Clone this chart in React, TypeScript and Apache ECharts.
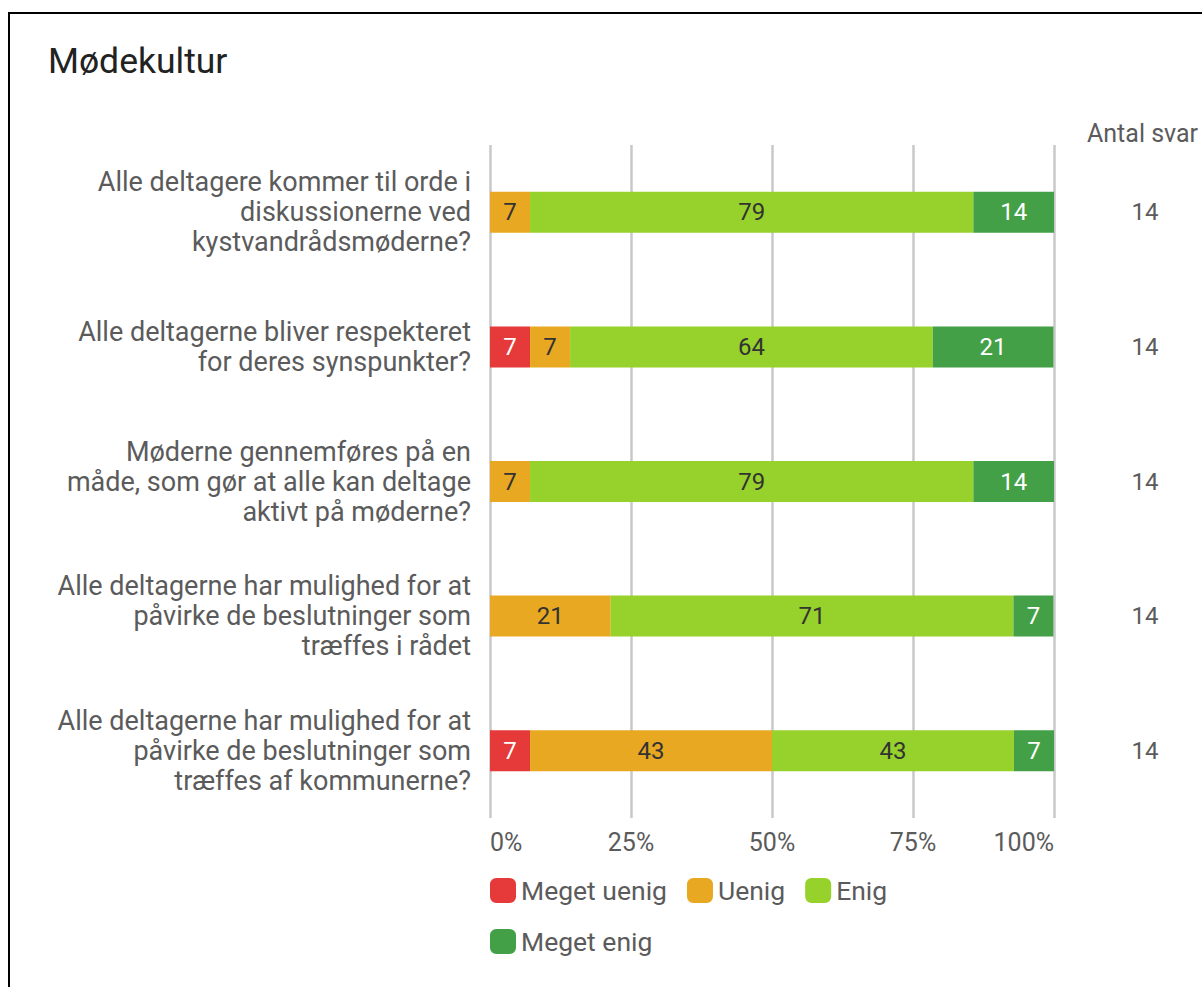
import React, { useEffect, useRef } from "react";
import * as echarts from "echarts";

const categories = [
  "Alle deltagere kommer til orde i\ndiskussionerne ved\nkystvandrådsmøderne?",
  "Alle deltagerne bliver respekteret\nfor deres synspunkter?",
  "Møderne gennemføres på en\nmåde, som gør at alle kan deltage\naktivt på møderne?",
  "Alle deltagerne har mulighed for at\npåvirke de beslutninger som\ntræffes i rådet",
  "Alle deltagerne har mulighed for at\npåvirke de beslutninger som\ntræffes af kommunerne?",
];
const antalSvar = ["14", "14", "14", "14", "14"];
const megetUenig = [0, 7.1, 0, 0, 7.1];
const uenig = [7.1, 7.1, 7.1, 21.4, 42.9];
const enig = [78.6, 64.3, 78.6, 71.4, 42.9];
const megetEnig = [14.3, 21.4, 14.3, 7.1, 7.1];
const xTicks = [0, 25, 50, 75, 100];

const seriesDefs = [
  { name: "Meget uenig", data: megetUenig, color: "#e5393a", label: "#ffffff" },
  { name: "Uenig", data: uenig, color: "#e8a822", label: "#333333" },
  { name: "Enig", data: enig, color: "#96d22b", label: "#333333" },
  { name: "Meget enig", data: megetEnig, color: "#43a047", label: "#ffffff" },
];

const FONT = "Roboto";
const GRAY = "#5b5b5b";

const legendCommon = {
  left: 485,
  orient: "horizontal",
  icon: "roundRect",
  itemWidth: 26,
  itemHeight: 25,
  itemGap: 20,
  textStyle: { fontFamily: FONT, fontSize: 26.5, color: GRAY },
};

export default function App() {
  const ref = useRef<HTMLDivElement>(null);
  useEffect(() => {
    if (!ref.current) return;
    const chart = echarts.init(ref.current, undefined, { renderer: "svg" });
    chart.setOption({
      animation: false,
      backgroundColor: "#ffffff",
      textStyle: { fontFamily: FONT },
      title: [
        {
          text: "Mødekultur",
          left: 43,
          top: 38,
          textStyle: { fontFamily: FONT, fontSize: 35.5, fontWeight: "normal", color: "#222222" },
        },
        {
          text: "Antal svar",
          left: 1082,
          top: 116,
          textStyle: { fontFamily: FONT, fontSize: 25, fontWeight: "normal", color: GRAY },
        },
      ],
      graphic: [
        {
          type: "polyline",
          shape: { points: [[9, 1000], [9, 13], [1210, 13]] },
          style: { stroke: "#000000", lineWidth: 2, fill: "none" },
          silent: true,
        },
      ],
      legend: [
        { ...legendCommon, data: ["Meget uenig", "Uenig", "Enig"], top: 872 },
        { ...legendCommon, data: ["Meget enig"], top: 923 },
      ],
      grid: { left: 490, right: 148, top: 145, bottom: 169, containLabel: false },
      xAxis: {
        type: "value",
        min: xTicks[0],
        max: xTicks[xTicks.length - 1],
        interval: 25,
        axisLine: { show: false },
        axisTick: { show: false },
        splitLine: { show: true, lineStyle: { color: "#c8c8c8", width: 2.5 } },
        axisLabel: {
          formatter: "{value}%",
          fontFamily: FONT,
          fontSize: 25,
          color: GRAY,
          margin: 12,
          alignMinLabel: "left",
          alignMaxLabel: "right",
        },
      },
      yAxis: [
        {
          type: "category",
          data: categories,
          inverse: true,
          axisLine: { show: false },
          axisTick: { show: false },
          axisLabel: {
            fontFamily: FONT,
            fontSize: 27,
            color: GRAY,
            lineHeight: 30,
            margin: 19,
            align: "right",
          },
        },
        {
          type: "category",
          data: antalSvar,
          inverse: true,
          position: "right",
          axisLine: { show: false },
          axisTick: { show: false },
          axisLabel: {
            fontFamily: FONT,
            fontSize: 24,
            color: GRAY,
            margin: 91,
            align: "center",
          },
        },
      ],
      series: seriesDefs.map((s) => ({
        name: s.name,
        type: "bar",
        stack: "total",
        yAxisIndex: 0,
        barWidth: 41,
        data: s.data,
        itemStyle: { color: s.color },
        label: {
          show: true,
          position: "inside",
          fontFamily: FONT,
          fontSize: 24,
          color: s.label,
          formatter: (p: any) => (p.value > 0.5 ? String(Math.round(p.value)) : ""),
        },
      })),
    });
    return () => chart.dispose();
  }, []);
  return (
    <div
      ref={ref}
      style={{ position: "absolute", left: 0, top: 0, width: 1202, height: 987 }}
    />
  );
}
